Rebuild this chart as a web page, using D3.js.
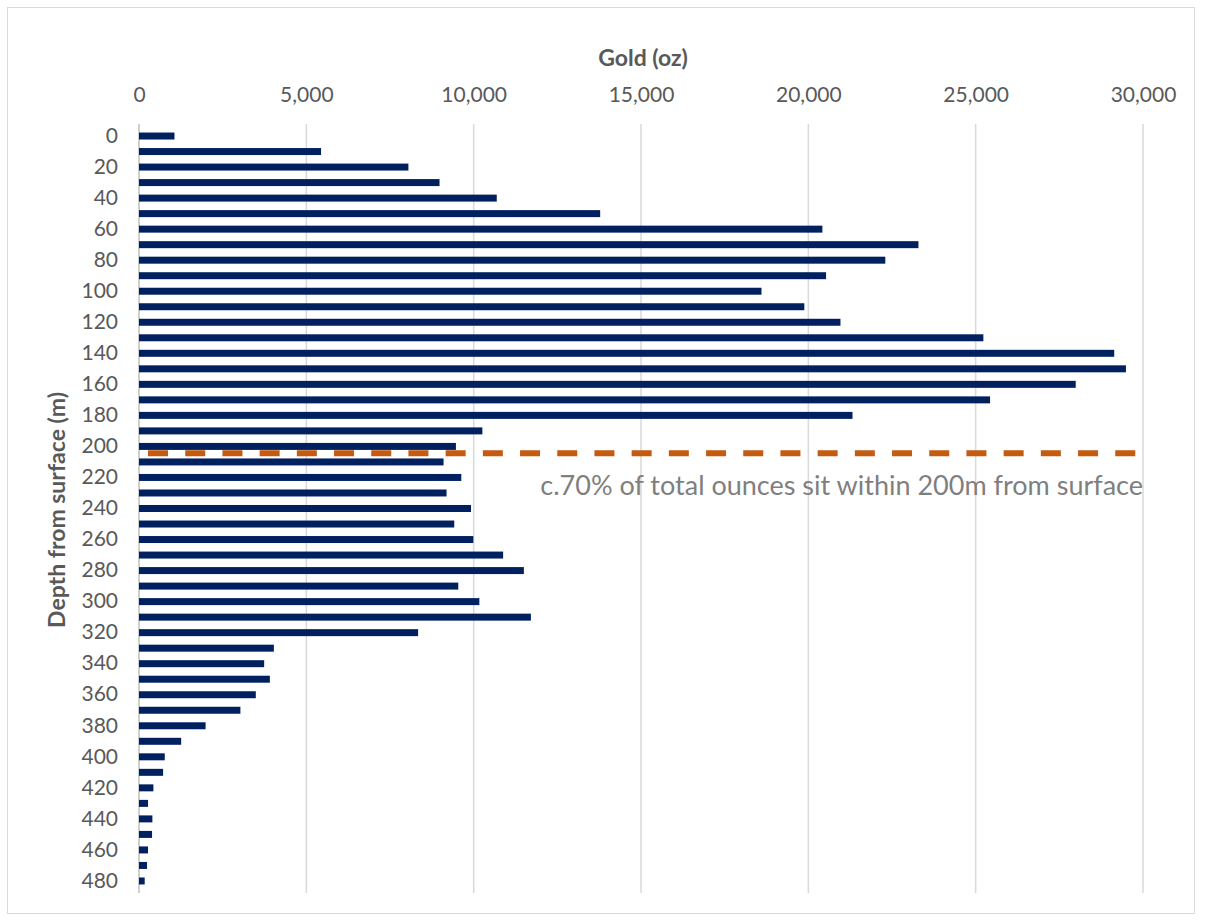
<!DOCTYPE html>
<html>
<head>
<meta charset="utf-8">
<script src="https://cdn.jsdelivr.net/npm/d3@7"></script>
<style>
  body { margin: 0; background: #fff; }
  svg text { font-family: Lato, "Open Sans", sans-serif; }
</style>
</head>
<body>
<div id="chart"></div>
<script>
// depth bins (m) and gold ounces in each bin
var depths = [0, 10, 20, 30, 40, 50, 60, 70, 80, 90, 100, 110, 120, 130, 140, 150, 160, 170, 180, 190,
  200, 210, 220, 230, 240, 250, 260, 270, 280, 290, 300, 310, 320, 330, 340, 350, 360, 370, 380, 390,
  400, 410, 420, 430, 440, 450, 460, 470, 480];
var gold = [1060, 5440, 8050, 8980, 10690, 13780, 20420, 23290, 22300, 20530, 18600, 19880, 20960, 25230, 29140, 29490, 27990, 25430, 21320, 10260,
  9470, 9100, 9630, 9190, 9920, 9420, 9990, 10880, 11500, 9540, 10170, 11710, 8340, 4030, 3740, 3910, 3490, 3030, 1990, 1260,
  770, 720, 430, 270, 400, 390, 270, 240, 170];
var xTicks = [0, 5000, 10000, 15000, 20000, 25000, 30000];
var yLabels = [0, 20, 40, 60, 80, 100, 120, 140, 160, 180, 200, 220, 240, 260, 280, 300, 320, 340, 360, 380, 400, 420, 440, 460, 480];
var cutDepth = 205; // dashed line sits between 200 and 210
var cutRange = [270, 30000];
var note = "c.70% of total ounces sit within 200m from surface";

var width = 1209, height = 921;
var svg = d3.select("#chart").append("svg")
  .attr("width", width)
  .attr("height", height);

// outer frame
svg.append("rect")
  .attr("x", 7.5).attr("y", 7.5)
  .attr("width", 1187).attr("height", 906)
  .attr("fill", "#fff")
  .attr("stroke", "#d9d9d9");

var x = d3.scaleLinear().domain([0, 30000]).range([139, 1143]);
var y = d3.scaleBand().domain(depths).range([124, 893]).padding(0.55);
var yMid = function(d) { return y(d) + y.bandwidth() / 2; };

// gridlines
svg.append("g").selectAll("line")
  .data(xTicks)
  .enter().append("line")
  .attr("x1", function(d) { return x(d); })
  .attr("x2", function(d) { return x(d); })
  .attr("y1", 124).attr("y2", 893)
  .attr("stroke", function(d) { return d === 0 ? "#bfbfbf" : "#d9d9d9"; })
  .attr("stroke-width", 1.5);

// x axis on top
var xAxis = svg.append("g")
  .attr("transform", "translate(0,102)")
  .call(d3.axisTop(x).tickValues(xTicks).tickFormat(d3.format(",")).tickSize(0).tickPadding(0));
xAxis.select(".domain").remove();
xAxis.selectAll("text")
  .attr("fill", "#595959")
  .style("font-size", "21px");

// y axis
var yAxis = svg.append("g")
  .attr("transform", "translate(118,0)")
  .call(d3.axisLeft(y).tickValues(yLabels).tickSize(0).tickPadding(0));
yAxis.select(".domain").remove();
yAxis.selectAll("text")
  .attr("fill", "#595959")
  .style("font-size", "21px");

// bars
svg.append("g").selectAll(".bar")
  .data(depths)
  .enter().append("rect")
  .attr("class", "bar")
  .attr("x", x(0))
  .attr("y", function(d) { return y(d); })
  .attr("height", y.bandwidth())
  .attr("width", function(d, i) { return x(gold[i]) - x(0); })
  .attr("fill", "#002060");

// 200m cut-off line
var cutY = yMid(200) + (yMid(210) - yMid(200)) * (cutDepth - 200) / 10 - 1;
svg.append("line")
  .attr("x1", x(cutRange[0])).attr("x2", x(cutRange[1]))
  .attr("y1", cutY).attr("y2", cutY)
  .attr("stroke", "#c55a11")
  .attr("stroke-width", 6)
  .attr("stroke-dasharray", "20,17.2");

svg.append("text")
  .attr("x", x(30000))
  .attr("y", 495)
  .attr("text-anchor", "end")
  .attr("fill", "#7f7f7f")
  .style("font-size", "27px")
  .text(note);

// axis titles
svg.append("text")
  .attr("x", 643).attr("y", 66)
  .attr("text-anchor", "middle")
  .attr("fill", "#595959")
  .style("font-size", "23px")
  .style("font-weight", "bold")
  .text("Gold (oz)");

svg.append("text")
  .attr("transform", "translate(65,510) rotate(-90)")
  .attr("text-anchor", "middle")
  .attr("fill", "#595959")
  .style("font-size", "23px")
  .style("font-weight", "bold")
  .text("Depth from surface (m)");
</script>
</body>
</html>
